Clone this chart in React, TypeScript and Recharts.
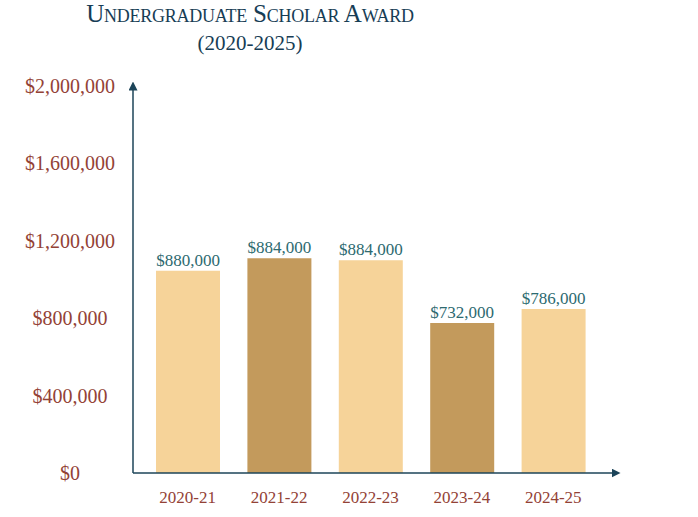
import React from 'react';
import { BarChart, Bar, XAxis, YAxis, Cell, LabelList } from 'recharts';

// school years on the x axis
const years = ['2020-21', '2021-22', '2022-23', '2023-24', '2024-25'];
// bar heights as read against the y axis
const barValues = [1045000, 1110000, 1100000, 775000, 848000];
// amounts printed above each bar
const amountLabels = ['$880,000', '$884,000', '$884,000', '$732,000', '$786,000'];
const yTicks = [0, 400000, 800000, 1200000, 1600000, 2000000];

const LIGHT = '#f6d399';
const DARK = '#c39a5c';
const AXIS = '#1c4459';
const TICK = '#934236';
const VALUE = '#2d6a70';
const FONT = '"Liberation Serif", "DejaVu Serif", serif';

const data = years.map((y, i) => ({ year: y, value: barValues[i], label: amountLabels[i] }));

const money = (v: number) => '$' + v.toLocaleString('en-US');

const YTick = (props: any) => {
    const { x, y, payload } = props;
    return (
        <text
            x={x - 63}
            y={y}
            textAnchor="middle"
            dominantBaseline="central"
            fontFamily={FONT}
            fontSize={20}
            fill={TICK}
        >
            {money(payload.value)}
        </text>
    );
};

const App = () => {
    return (
        <div style={{ position: 'absolute', top: 0, left: 0, width: 698, height: 517, background: '#fff' }}>
            <div
                style={{
                    position: 'absolute',
                    top: 0,
                    left: 0,
                    width: 500,
                    textAlign: 'center',
                    fontFamily: FONT,
                    color: '#173d55',
                }}
            >
                <div style={{ fontSize: 25, lineHeight: '28px', fontVariant: 'small-caps', letterSpacing: -0.25 }}>
                    Undergraduate Scholar Award
                </div>
                <div style={{ fontSize: 21, lineHeight: '30px' }}>(2020-2025)</div>
            </div>
            <BarChart
                width={698}
                height={517}
                data={data}
                margin={{ top: 86, right: 82, left: 0, bottom: 14 }}
                barSize={64}
                style={{ position: 'absolute', top: 0, left: 0 }}
            >
                <defs>
                    <marker
                        id="arrow"
                        viewBox="0 0 10 10"
                        refX="5"
                        refY="5"
                        markerWidth="9"
                        markerHeight="9"
                        markerUnits="userSpaceOnUse"
                        orient="auto-start-reverse"
                    >
                        <path d="M0,0 L10,5 L0,10 z" fill={AXIS} />
                    </marker>
                </defs>
                <XAxis
                    dataKey="year"
                    height={30}
                    padding={{ left: 9, right: 17 }}
                    tickLine={false}
                    tickSize={0}
                    tickMargin={18}
                    axisLine={{ stroke: AXIS, strokeWidth: 1.5, markerEnd: 'url(#arrow)' } as any}
                    tick={{ fontFamily: FONT, fontSize: 17, fill: TICK }}
                />
                <YAxis
                    width={133}
                    domain={[0, 2000000]}
                    ticks={yTicks}
                    tickLine={false}
                    tickSize={0}
                    tickMargin={0}
                    axisLine={{ stroke: AXIS, strokeWidth: 1.5, markerStart: 'url(#arrow)' } as any}
                    tick={<YTick />}
                />
                <Bar dataKey="value" isAnimationActive={false}>
                    {data.map((d, i) => (
                        <Cell key={d.year} fill={i % 2 === 0 ? LIGHT : DARK} />
                    ))}
                    <LabelList
                        dataKey="label"
                        position="top"
                        offset={5}
                        fontFamily={FONT}
                        fontSize={17}
                        fill={VALUE}
                    />
                </Bar>
            </BarChart>
        </div>
    );
};

export default App;
